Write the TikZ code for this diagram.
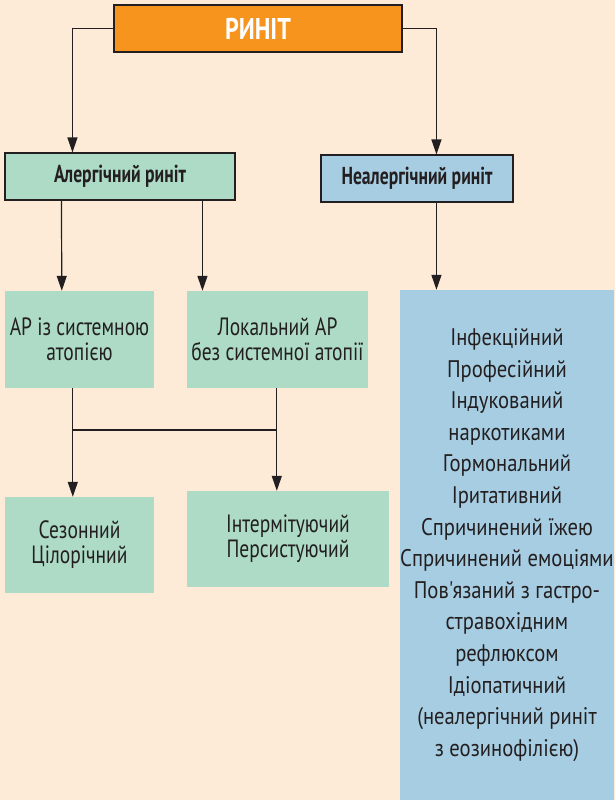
\documentclass[tikz,border=0pt]{standalone}
\usepackage{fontspec}
\setmainfont{PT Sans}
% condensed cuts of PT Sans for the different text roles
\newfontfamily\titlefam[FakeStretch=0.8]{PT Sans}
\newfontfamily\headfam[FakeStretch=0.72]{PT Sans}
\newfontfamily\boxfam[FakeStretch=0.78]{PT Sans}
\newfontfamily\listfam[FakeStretch=0.86]{PT Sans}
\usetikzlibrary{arrows.meta}

\definecolor{bg}{HTML}{FDEBD8}
\definecolor{orangebox}{HTML}{F7941D}
\definecolor{greenbox}{HTML}{ADDBC6}
\definecolor{bluebox}{HTML}{A7CDE2}
\definecolor{ink}{HTML}{231F20}

\tikzset{
  box/.style={rectangle, inner sep=0pt, align=center, text=ink},
  framed/.style={draw=ink, line width=1.1pt},
  conn/.style={draw=ink, line width=1.2pt},
  arr/.style={conn, -{Triangle[length=15pt,width=10pt]}},
  headfont/.style={font=\headfam\bfseries\fontsize{24.5}{25}\selectfont},
  bodyfont/.style={font=\boxfam\fontsize{25}{25}\selectfont},
  listfont/.style={font=\listfam\fontsize{24}{31.6}\selectfont},
}

\begin{document}
\begin{tikzpicture}[x=1pt,y=-1pt]
  \useasboundingbox (0,0) rectangle (615,800);
  \fill[bg] (0,0) rectangle (615,800);

  % top level
  \node[box, framed, fill=orangebox, text=white, minimum width=288pt, minimum height=47pt,
        font=\titlefam\bfseries\fontsize{30}{30}\selectfont] (top) at (258,28.5) {РИНІТ};

  % second level
  \node[box, framed, fill=greenbox, headfont, minimum width=230pt, minimum height=47pt]
    (al) at (120,176.5) {Алергічний риніт};
  \node[box, framed, fill=bluebox, headfont, minimum width=192pt, minimum height=47pt]
    (nal) at (417,178.5) {Неалергічний риніт};

  % allergic subtypes
  \node[box, fill=greenbox, bodyfont, minimum width=149pt, minimum height=97pt]
    (b1) at (79.5,339.5) {АР із системною\\атопією};
  \node[box, fill=greenbox, bodyfont, minimum width=181pt, minimum height=97pt]
    (b2) at (277.5,339.5) {Локальний АР\\без системної атопії};
  \node[box, fill=greenbox, bodyfont, minimum width=149pt, minimum height=96pt]
    (b3) at (79.5,545) {Сезонний\\Цілорічний};
  \node[box, fill=greenbox, bodyfont, minimum width=202pt, minimum height=96pt]
    (b4) at (288,539) {Інтермітуючий\\Персистуючий};

  % non-allergic list
  \node[box, fill=bluebox, listfont, minimum width=210pt, minimum height=510pt]
    (list) at (507,545) {Інфекційний\\Професійний\\Індукований\\наркотиками\\Гормональний\\Іритативний\\Спричинений їжею\\Спричинений емоціями\\Пов'язаний з гастро-\\стравохідним\\рефлюксом\\Ідіопатичний\\(неалергічний риніт\\з еозинофілією)};

  % connectors from the top box
  \draw[arr] (top.west) -| ([xshift=68pt]al.north west);
  \draw[arr] (top.east) -| ([xshift=116pt]nal.north west);

  % allergic branch
  \draw[arr] ([xshift=57pt]al.south west) -- ([xshift=57pt]b1.north west);
  \draw[arr] ([xshift=198pt]al.south west) -- ([xshift=198pt]al.south west |- b2.north);

  \coordinate (jl) at (73,430);
  \coordinate (jr) at (277,430);
  \draw[arr] ([xshift=68pt]b1.south west) -- ([xshift=68pt]b1.south west |- b3.north);
  \draw[arr] ([xshift=90pt]b2.south west) -- ([xshift=90pt]b2.south west |- b4.north);
  \draw[conn] (jl) -- (jr);

  % non-allergic branch
  \draw[arr] ([xshift=116pt]nal.south west) -- ([xshift=116pt]nal.south west |- list.north);
\end{tikzpicture}
\end{document}
